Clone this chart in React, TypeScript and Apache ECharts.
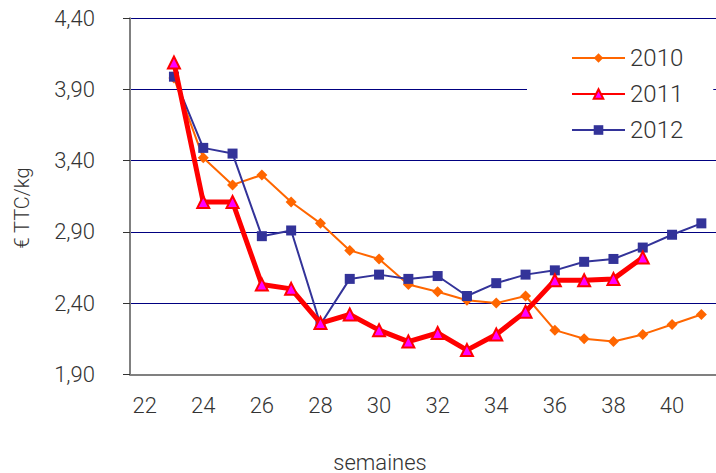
import React, { useEffect, useRef } from "react";
import * as echarts from "echarts";

const weeks = ["22","23","24","25","26","27","28","29","30","31","32","33","34","35","36","37","38","39","40","41"];
const yTicks = [1.9, 2.4, 2.9, 3.4, 3.9, 4.4];
const s2010 = [null, 3.98, 3.42, 3.23, 3.30, 3.11, 2.96, 2.77, 2.71, 2.53, 2.48, 2.42, 2.40, 2.45, 2.21, 2.15, 2.13, 2.18, 2.25, 2.32];
const s2011 = [null, 4.09, 3.11, 3.11, 2.53, 2.50, 2.26, 2.32, 2.21, 2.13, 2.19, 2.07, 2.18, 2.34, 2.56, 2.56, 2.57, 2.72, null, null];
const s2012 = [null, 3.99, 3.49, 3.45, 2.87, 2.91, 2.25, 2.57, 2.60, 2.57, 2.59, 2.45, 2.54, 2.60, 2.63, 2.69, 2.71, 2.79, 2.88, 2.96];
const yName = "€ TTC/kg";
const xName = "semaines";

const FONT = "Roboto";
const TXT = "#333333";

export default function App() {
  const ref = useRef<HTMLDivElement>(null);
  useEffect(() => {
    const chart = echarts.init(ref.current!, null, { renderer: "svg" });
    chart.setOption({
      animation: false,
      backgroundColor: "#ffffff",
      textStyle: { fontFamily: FONT, fontWeight: 300 },
      grid: { left: 130, right: 0, top: 18.3, bottom: 98.7, containLabel: false },
      xAxis: {
        type: "category",
        data: weeks,
        boundaryGap: true,
        axisLine: { lineStyle: { color: "#808080", width: 2 } },
        axisTick: { interval: 0, length: 7, lineStyle: { color: "#333333", width: 1 } },
        axisLabel: { interval: 1, margin: 20, fontSize: 22, color: TXT, fontFamily: FONT, fontWeight: 300 },
        splitLine: { show: false },
      },
      yAxis: {
        type: "value",
        min: yTicks[0],
        max: yTicks[yTicks.length - 1],
        interval: 0.5,
        axisLine: { show: true, lineStyle: { color: "#808080", width: 2 } },
        axisTick: { show: true, length: 7, lineStyle: { color: "#333333", width: 1 } },
        axisLabel: {
          margin: 35,
          fontSize: 22,
          color: TXT,
          fontFamily: FONT,
          fontWeight: 300,
          formatter: (v: number) => v.toFixed(2).replace(".", ","),
        },
        splitLine: { show: true, lineStyle: { color: "#000080", width: 1 } },
      },
      legend: {
        orient: "vertical",
        left: 527,
        top: 35,
        backgroundColor: "#ffffff",
        padding: [11, 30, 11, 44],
        itemWidth: 53,
        itemHeight: 12,
        itemGap: 12,
        textStyle: { fontSize: 24, color: TXT, fontFamily: FONT, fontWeight: 300, lineHeight: 24 },
        data: ["2010", "2011", "2012"],
      },
      graphic: [
        {
          type: "text",
          x: 22,
          y: 208,
          rotation: Math.PI / 2,
          style: { text: yName, fontSize: 20, fontFamily: FONT, fontWeight: 300, fill: TXT, align: "center", verticalAlign: "middle" },
        },
        {
          type: "text",
          x: 380,
          y: 462,
          style: { text: xName, fontSize: 22, fontFamily: FONT, fontWeight: 300, fill: TXT, align: "center", verticalAlign: "middle" },
        },
      ],
      series: [
        {
          name: "2010",
          type: "line",
          data: s2010,
          symbol: "diamond",
          symbolSize: 11,
          lineStyle: { color: "#FF6600", width: 2 },
          itemStyle: { color: "#FF6600" },
          z: 2,
        },
        {
          name: "2011",
          type: "line",
          data: s2011,
          symbol: "triangle",
          symbolSize: 12,
          lineStyle: { color: "#FF0000", width: 5 },
          itemStyle: { color: "#FF00FF", borderColor: "#FF0000", borderWidth: 2 },
          z: 3,
        },
        {
          name: "2012",
          type: "line",
          data: s2012,
          symbol: "rect",
          symbolSize: 10,
          lineStyle: { color: "#333399", width: 2 },
          itemStyle: { color: "#333399" },
          z: 2,
        },
      ],
    });
    return () => chart.dispose();
  }, []);
  return <div ref={ref} style={{ position: "fixed", left: 0, top: 0, width: 716, height: 473 }} />;
}
